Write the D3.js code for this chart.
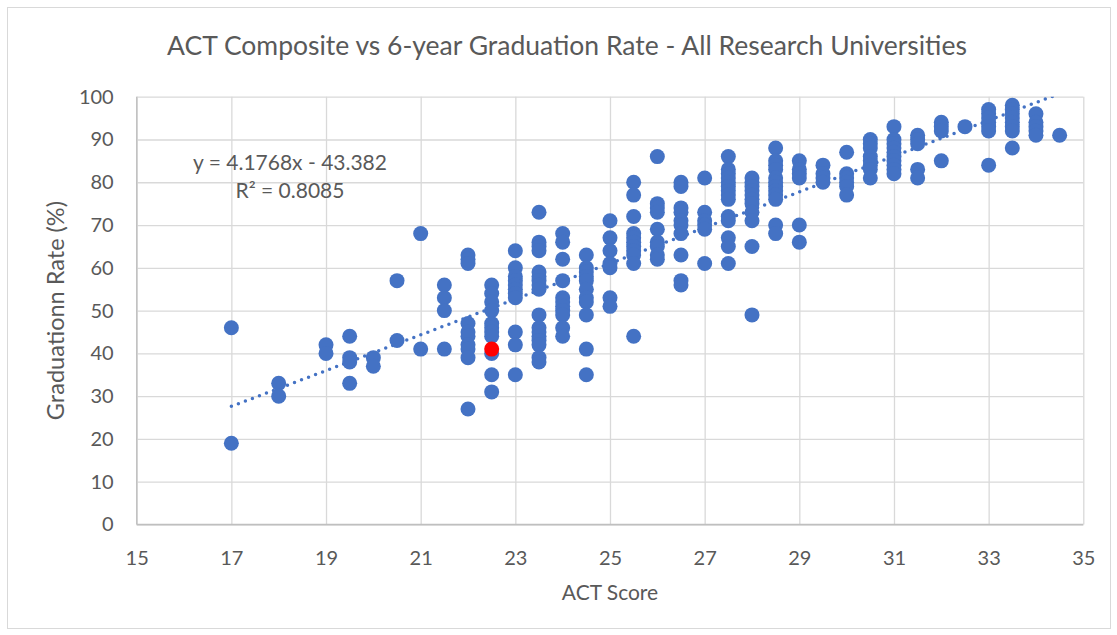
<!DOCTYPE html>
<html>
<head>
<meta charset="utf-8">
<script src="https://cdn.jsdelivr.net/npm/d3@7"></script>
<style>
  body { margin: 0; background: #fff; }
  text { font-family: Lato, "Open Sans", sans-serif; fill: #595959; }
</style>
</head>
<body>
<svg id="chart"></svg>
<script>
let width = 1117;
let height = 635;

// ACT scores (x) and the graduation rates found at each score (y, %)
let actScores = [17, 18, 19, 19.5, 20, 20.5, 21, 21.5, 22, 22.5, 23, 23.5, 24, 24.5, 25, 25.5,
    26, 26.5, 27, 27.5, 28, 28.5, 29, 29.5, 30, 30.5, 31, 31.5, 32, 32.5, 33, 33.5, 34, 34.5];
let gradRates = [
    [46, 19],
    [33, 30],
    [42, 40],
    [44, 39, 38, 33],
    [39, 37],
    [57, 43],
    [68, 41],
    [56, 53, 50, 41],
    [63, 62, 61, 47, 45, 44, 42, 41, 39, 27],
    [56, 54, 52, 50, 47, 46, 45, 44, 40, 35, 31],
    [64, 60, 58, 57, 56, 55, 54, 53, 45, 42, 35],
    [73, 66, 65, 64, 59, 58, 57, 56, 55, 49, 46, 45, 44, 43, 42, 39, 38],
    [68, 66, 62, 57, 53, 52, 51, 50, 49, 46, 44],
    [63, 60, 59, 58, 57, 55, 53, 52, 49, 41, 35],
    [71, 67, 64, 61, 60, 53, 51],
    [80, 77, 72, 68, 67, 66, 65, 64, 63, 61, 44],
    [86, 75, 74, 73, 69, 66, 65, 63, 62],
    [80, 79, 74, 73, 71, 70, 68, 63, 57, 56],
    [81, 73, 71, 70, 69, 61],
    [86, 83, 82, 81, 80, 79, 78, 77, 76, 72, 71, 67, 65, 61],
    [81, 80, 79, 78, 77, 76, 75, 73, 71, 65, 49],
    [88, 85, 84, 83, 81, 80, 79, 78, 77, 76, 70, 68],
    [85, 83, 82, 81, 70, 66],
    [84, 82, 81, 80],
    [87, 82, 81, 80, 79, 77],
    [90, 89, 88, 86, 85, 84, 83, 81],
    [93, 90, 89, 88, 87, 86, 85, 84, 83, 82],
    [91, 90, 89, 83, 81],
    [94, 93, 92, 85],
    [93],
    [97, 96, 95, 94, 93, 92, 84],
    [98, 97, 96, 95, 94, 93, 92, 88],
    [96, 94, 93, 92, 91],
    [91]
];
// the one highlighted university
let highlightScore = [22.5];
let highlightRate = [41];

let xTicks = [15, 17, 19, 21, 23, 25, 27, 29, 31, 33, 35];
let yTicks = [0, 10, 20, 30, 40, 50, 60, 70, 80, 90, 100];
let trendSlope = 4.1768;
let trendIntercept = -43.382;
let trendRange = [17, 34.5];

let plot = { left: 136.7, right: 1083.3, top: 96.7, bottom: 524.5 };
let radius = 7.5;
let blue = "#4472c4";

let svg = d3.select("#chart").attr("width", width).attr("height", height);

let scaleX = d3.scaleLinear().domain([15, 35]).range([plot.left, plot.right]);
let scaleY = d3.scaleLinear().domain([0, 100]).range([plot.bottom, plot.top]);

// flatten into points
let points = [];
actScores.forEach(function(score, i) {
    gradRates[i].forEach(r => points.push({ act: score, rate: r }));
});

// chart frame
svg.append("rect")
    .attr("x", 7.5).attr("y", 7.5)
    .attr("width", 1103).attr("height", 621)
    .attr("fill", "#fff")
    .attr("stroke", "#d9d9d9");

// gridlines
svg.append("g")
    .attr("transform", "translate(0," + plot.bottom + ")")
    .call(d3.axisBottom(scaleX).tickValues(xTicks).tickSize(-(plot.bottom - plot.top)).tickFormat(""))
    .call(g => g.select(".domain").remove())
    .selectAll("line").attr("stroke", "#d9d9d9").attr("stroke-width", 1.3);

svg.append("g")
    .attr("transform", "translate(" + plot.left + ",0)")
    .call(d3.axisLeft(scaleY).tickValues(yTicks).tickSize(-(plot.right - plot.left)).tickFormat(""))
    .call(g => g.select(".domain").remove())
    .selectAll("line").attr("stroke", "#d9d9d9").attr("stroke-width", 1.3);

// axis lines
svg.append("line")
    .attr("x1", plot.left).attr("x2", plot.right)
    .attr("y1", plot.bottom).attr("y2", plot.bottom)
    .attr("stroke", "#bfbfbf").attr("stroke-width", 1.3);
svg.append("line")
    .attr("x1", plot.left).attr("x2", plot.left)
    .attr("y1", plot.top).attr("y2", plot.bottom)
    .attr("stroke", "#bfbfbf").attr("stroke-width", 1.3);

// tick labels
let xAxis = svg.append("g")
    .attr("transform", "translate(0," + plot.bottom + ")")
    .call(d3.axisBottom(scaleX).tickValues(xTicks).tickSize(0).tickPadding(26));
xAxis.select(".domain").remove();
xAxis.selectAll("text").style("font-size", "20px").attr("fill", "#595959")
    .style("font-family", "Lato, sans-serif");

let yAxis = svg.append("g")
    .attr("transform", "translate(" + plot.left + ",0)")
    .call(d3.axisLeft(scaleY).tickValues(yTicks).tickSize(0).tickPadding(23));
yAxis.select(".domain").remove();
yAxis.selectAll("text").style("font-size", "20px").attr("fill", "#595959")
    .style("font-family", "Lato, sans-serif");

// trendline, clipped to plot area
svg.append("clipPath").attr("id", "plot-clip")
    .append("rect")
    .attr("x", plot.left).attr("y", plot.top)
    .attr("width", plot.right - plot.left).attr("height", plot.bottom - plot.top);

let trend = d3.line()
    .x(d => scaleX(d))
    .y(d => scaleY(trendSlope * d + trendIntercept));

svg.append("path")
    .datum(trendRange)
    .attr("d", trend)
    .attr("clip-path", "url(#plot-clip)")
    .attr("fill", "none")
    .attr("stroke", blue)
    .attr("stroke-width", 3.5)
    .attr("stroke-linecap", "round")
    .attr("stroke-dasharray", "0 7.5");

// points
svg.selectAll(".dot").data(points).enter()
    .append("circle")
    .attr("class", "dot")
    .attr("cx", d => scaleX(d.act))
    .attr("cy", d => scaleY(d.rate))
    .attr("r", radius)
    .attr("fill", blue);

svg.selectAll(".highlight").data(highlightScore).enter()
    .append("circle")
    .attr("class", "highlight")
    .attr("cx", d => scaleX(d))
    .attr("cy", (d, i) => scaleY(highlightRate[i]))
    .attr("r", radius)
    .attr("fill", "#ff0000");

// title and labels
svg.append("text")
    .text("ACT Composite vs 6-year Graduation Rate - All Research Universities")
    .attr("x", 567).attr("y", 55)
    .attr("text-anchor", "middle")
    .style("font-size", "26.5px");

svg.append("text")
    .text("ACT Score")
    .attr("x", 610).attr("y", 600)
    .attr("text-anchor", "middle")
    .style("font-size", "21px");

svg.append("text")
    .text("Graduationn Rate (%)")
    .attr("transform", "translate(64," + ((plot.top + plot.bottom) / 2) + ") rotate(-90)")
    .attr("text-anchor", "middle")
    .style("font-size", "23.5px");

svg.append("text")
    .text("y = 4.1768x - 43.382")
    .attr("x", 290).attr("y", 170)
    .attr("text-anchor", "middle")
    .style("font-size", "21px");

svg.append("text")
    .attr("x", 290).attr("y", 198)
    .attr("text-anchor", "middle")
    .style("font-size", "21px")
    .text("R² = 0.8085");
</script>
</body>
</html>
